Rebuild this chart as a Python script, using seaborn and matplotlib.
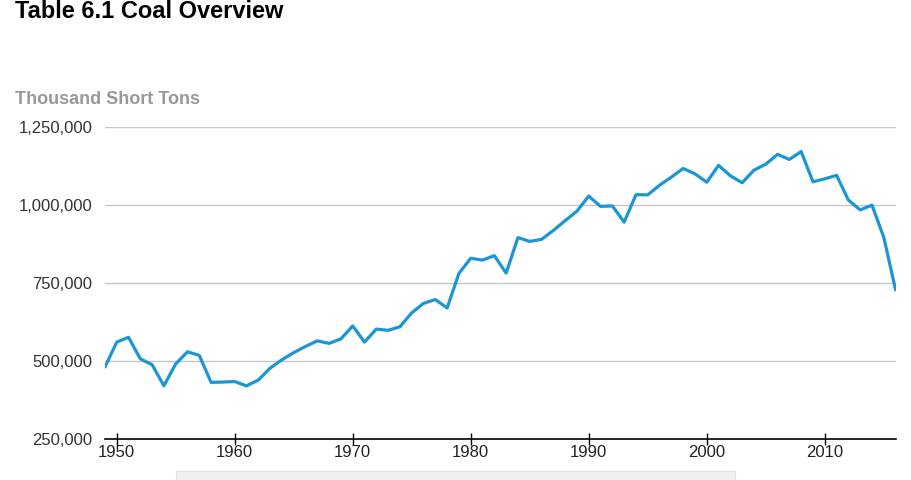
import numpy as np
import pandas as pd
import matplotlib.pyplot as plt
import seaborn as sns
from matplotlib.patches import Rectangle
from matplotlib.ticker import FuncFormatter

sns.set_theme(style="white")
plt.rcParams["font.family"] = ["Liberation Sans", "DejaVu Sans"]

years = list(range(1949, 2017))
production = [
    480570, 560388, 576335, 507424, 488239, 420789, 490838, 529774, 518042, 431617,
    432677, 434329, 420423, 439043, 477195, 504182, 526954, 546822, 564882, 556706,
    570978, 612661, 560919, 602492, 598568, 610023, 654641, 684913, 697205, 670164,
    781134, 829700, 823775, 838112, 782091, 895921, 883638, 890315, 918762, 950265,
    980729, 1029076, 995984, 997545, 945424, 1033504, 1032974, 1063856, 1089932, 1117535,
    1100431, 1073612, 1127689, 1094283, 1071753, 1112099, 1131498, 1162750, 1146635, 1171809,
    1074923, 1084368, 1095628, 1016458, 984842, 1000049, 896941, 728364,
]
y_ticks = [250000, 500000, 750000, 1000000, 1250000]
x_ticks = [1950, 1960, 1970, 1980, 1990, 2000, 2010]

df = pd.DataFrame({"year": years, "production": production})

fig = plt.figure(figsize=(9.12, 4.8), dpi=100)
ax = fig.add_axes([0.115, 0.0854, 0.867, 0.6496])

for yt in y_ticks[1:]:
    ax.axhline(yt, color="#c6c6c6", lw=1.0, zorder=1)

sns.lineplot(data=df, x="year", y="production", color="#1a96d4", lw=2.3, ax=ax, zorder=3)

ax.set_xlim(1949, 2016)
ax.set_ylim(250000, 1250000)
ax.set_xticks(x_ticks)
ax.set_yticks(y_ticks)
ax.yaxis.set_major_formatter(FuncFormatter(lambda v, _: f"{int(v):,}"))
ax.set_xlabel("")
ax.set_ylabel("")
for side in ["top", "right", "left"]:
    ax.spines[side].set_visible(False)
ax.spines["bottom"].set_color("black")
ax.spines["bottom"].set_linewidth(1.2)
ax.spines["bottom"].set_zorder(4)
ax.tick_params(axis="x", bottom=True, direction="inout", length=8, width=1,
               color="black", labelsize=12, labelcolor="#222222", pad=0)
ax.tick_params(axis="y", left=False, length=0, labelsize=12, labelcolor="#333333", pad=9)
ax.patch.set_alpha(0)

fig.text(0.016, 1.0, "Table 6.1 Coal Overview", fontsize=17, fontweight="bold",
         color="black", va="top", ha="left")
fig.text(0.016, 0.792, "Thousand Short Tons", fontsize=13, fontweight="bold",
         color="#999999", va="center", ha="left")

# scrollbar strip under the chart
fig.patches.append(Rectangle((176 / 912, 0), (735 - 176) / 912, 9 / 480,
                             transform=fig.transFigure, facecolor="#f0f0f0",
                             edgecolor="#e2e2e2", lw=0.8))

plt.savefig("out.png", dpi=100)
